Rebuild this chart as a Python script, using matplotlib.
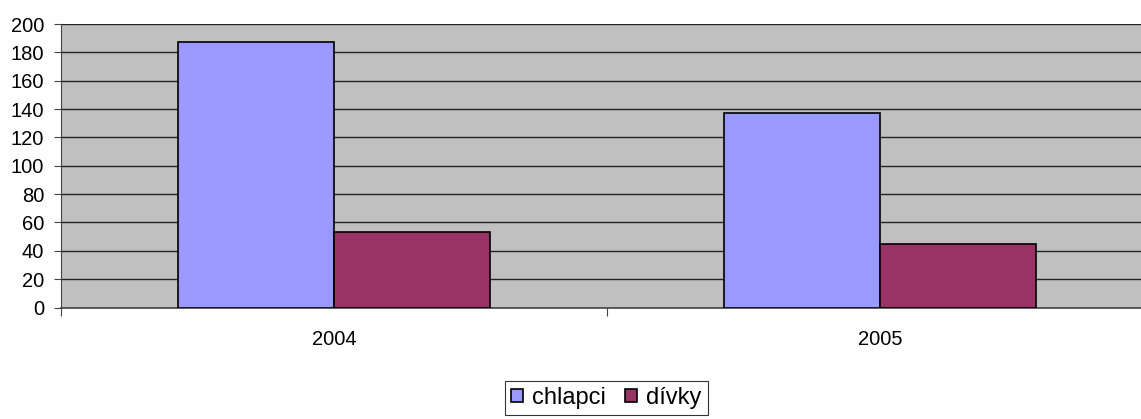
import matplotlib
matplotlib.use("Agg")
import matplotlib.pyplot as plt
import numpy as np

categories = ["2004", "2005"]
series_names = ["chlapci", "dívky"]
chlapci = [187, 137]
divky = [53, 45]
yticks = [0, 20, 40, 60, 80, 100, 120, 140, 160, 180, 200]

plt.rcParams['font.family'] = ['Liberation Sans', 'DejaVu Sans']

W, H = 1141, 419
fig = plt.figure(figsize=(W / 100, H / 100), dpi=100)
left, right, top, bottom = 61, 1153, 24, 307.5
ax = fig.add_axes([left / W, 1 - bottom / H, (right - left) / W, (bottom - top) / H])
ax.set_facecolor("#C0C0C0")

x = np.arange(len(categories))
bw = 156 / 546
ax.bar(x - bw / 2, chlapci, bw, color="#9999FF", edgecolor="black", linewidth=1.2,
       label=series_names[0], zorder=3)
ax.bar(x + bw / 2, divky, bw, color="#993366", edgecolor="black", linewidth=1.2,
       label=series_names[1], zorder=3)

ax.set_xlim(-0.5, 1.5)
ax.set_ylim(0, 200)
ax.set_yticks(yticks)
ax.set_yticklabels([str(v) for v in yticks], fontsize=14.5)
ax.yaxis.grid(True, color="#222222", linewidth=1.0, zorder=1)
ax.set_axisbelow(True)

ax.set_xticks([-0.5, 0.5, 1.5])
ax.set_xticklabels([])
ax.set_xticks([0, 1], minor=True)
ax.set_xticklabels(categories, minor=True, fontsize=14.5)
ax.tick_params(axis='x', which='minor', length=0, pad=16)
ax.tick_params(axis='x', which='major', length=6, width=0.8, color="#444444", direction='out')
ax.tick_params(axis='y', length=5, width=0.8, color="#444444", pad=7)

for s in ["top", "right"]:
    ax.spines[s].set_visible(False)
ax.spines["left"].set_color("#444444")
ax.spines["bottom"].set_color("#444444")
ax.spines["bottom"].set_linewidth(1.2)

leg = fig.legend(loc="center", bbox_to_anchor=(606.5 / W, 1 - 398 / H), ncol=2, fontsize=17,
                 frameon=True, fancybox=False, handlelength=0.5, handleheight=0.5,
                 handletextpad=0.4, columnspacing=0.8, borderpad=0.25, borderaxespad=0)
leg.get_frame().set_edgecolor("black")
leg.get_frame().set_linewidth(0.8)

fig.savefig("out.png", dpi=100)
